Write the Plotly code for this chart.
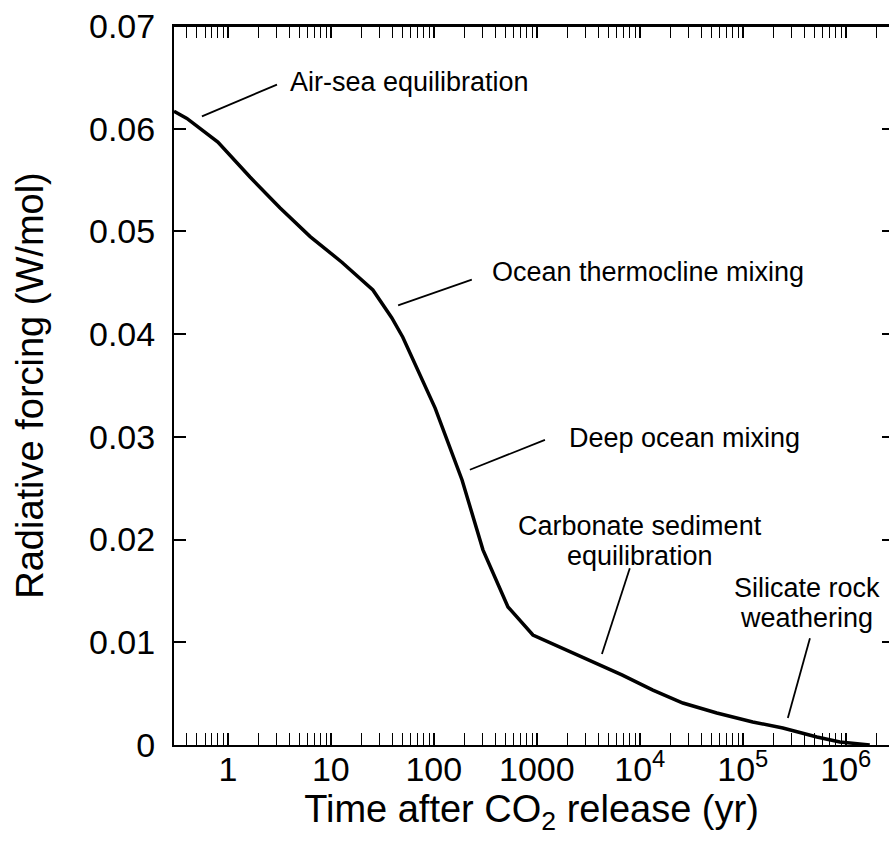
import numpy as np
import plotly.graph_objects as go

# ---- data ----
time_yr = [0.3, 0.40, 0.80, 1.64, 3.2, 6.3, 12.8, 25.6, 39, 50, 103, 188, 300, 525, 917,
           1750, 3430, 6700, 13400, 26200, 56000, 125000, 245000, 525000, 877000, 1.71e6]
forcing = [0.0617, 0.0610, 0.0587, 0.0553, 0.0523, 0.0495, 0.0470, 0.0443, 0.0416, 0.0397,
           0.0328, 0.0258, 0.0190, 0.01344, 0.01071, 0.00944, 0.00808, 0.00682, 0.00535,
           0.00409, 0.00312, 0.00224, 0.00166, 0.00078, 0.0003, 0.0]

x_tickvals = [1, 10, 100, 1000, 1e4, 1e5, 1e6]
x_ticktext = ["1", "10", "100", "1000", "10<sup>4</sup>", "10<sup>5</sup>", "10<sup>6</sup>"]
y_tickvals = [0, 0.01, 0.02, 0.03, 0.04, 0.05, 0.06, 0.07]
y_ticktext = ["0", "0.01", "0.02", "0.03", "0.04", "0.05", "0.06", "0.07"]

# annotation labels: (text, x, y, xanchor)
label_text = ["Air-sea equilibration", "Ocean thermocline mixing", "Deep ocean mixing",
              "Carbonate sediment", "equilibration", "Silicate rock", "weathering"]
label_x = [3.84, 351, 1960, 10000, 10000, 420000, 420000]
label_y = [0.0645, 0.04605, 0.02989, 0.02130, 0.01840, 0.01525, 0.01235]
label_anchor = ["left", "left", "left", "center", "center", "center", "center"]

# leader lines: (x0, y0) -> (x1, y1)
leader_x0 = [3.0, 234, 1200, 8000, 449000]
leader_y0 = [0.0643, 0.0453, 0.0297, 0.0172, 0.0104]
leader_x1 = [0.56, 45, 224, 4290, 274000]
leader_y1 = [0.0612, 0.0428, 0.0268, 0.00886, 0.00263]

FONT = "Liberation Sans, Arial, Helvetica, sans-serif"

fig = go.Figure()

for x0, y0, x1, y1 in zip(leader_x0, leader_y0, leader_x1, leader_y1):
    fig.add_trace(go.Scatter(x=[x0, x1], y=[y0, y1], mode="lines",
                             line=dict(color="black", width=1.8),
                             showlegend=False, hoverinfo="skip"))

fig.add_trace(go.Scatter(x=time_yr, y=forcing, mode="lines",
                         line=dict(color="black", width=3.5),
                         showlegend=False))

# dummy trace for right-side tick axis
fig.add_trace(go.Scatter(x=[None], y=[None], yaxis="y2", showlegend=False))

for t, x, y, a in zip(label_text, label_x, label_y, label_anchor):
    fig.add_annotation(text=t, x=np.log10(x), y=y, xref="x", yref="y",
                       xanchor=a, yanchor="middle", showarrow=False,
                       font=dict(family=FONT, size=27, color="black"))

# top frame line of the plot area
fig.add_shape(type="line", xref="paper", yref="paper", x0=0, x1=1, y0=1, y1=1,
              line=dict(color="black", width=2), layer="above")

minor_vals = [k * 10.0 ** n for n in range(-1, 7) for k in range(2, 10)]

fig.update_layout(
    width=889, height=847,
    margin=dict(l=174, r=0, t=26, b=102, autoexpand=False),
    plot_bgcolor="white", paper_bgcolor="white",
    font=dict(family=FONT, color="black"),
    xaxis=dict(
        type="log", range=[np.log10(0.3), 6.42], automargin=False,
        showline=True, linecolor="black", linewidth=2, mirror="allticks",
        ticks="inside", ticklen=12, tickwidth=1.6, tickcolor="black",
        tickvals=x_tickvals, ticktext=x_ticktext,
        tickfont=dict(family=FONT, size=34, color="black"),
        ticklabelstandoff=-7, ticklabeloverflow="allow",
        minor=dict(ticks="inside", ticklen=6, tickwidth=1.4, tickcolor="black",
                   tickvals=minor_vals, showgrid=False),
        showgrid=False, zeroline=False,
        title=dict(text="Time after CO<sub>2</sub> release (yr)",
                   font=dict(family=FONT, size=38, color="black"), standoff=3),
    ),
    yaxis=dict(
        range=[0, 0.07], automargin=False,
        showline=True, linecolor="black", linewidth=2,
        ticks="inside", ticklen=12, tickwidth=1.6, tickcolor="black",
        tickvals=y_tickvals, ticktext=y_ticktext,
        tickfont=dict(family=FONT, size=34, color="black"),
        ticklabelstandoff=10, ticklabeloverflow="allow",
        showgrid=False, zeroline=False,
        title=dict(text="Radiative forcing (W/mol)",
                   font=dict(family=FONT, size=38, color="black"), standoff=34),
    ),
    yaxis2=dict(
        overlaying="y", side="right", range=[0, 0.07], automargin=False,
        showline=False, ticks="inside", ticklen=7, tickwidth=1.6, tickcolor="black",
        tickvals=y_tickvals, showticklabels=False,
        showgrid=False, zeroline=False,
    ),
)

fig.write_html("out.html",
               config={"displayModeBar": False},
               post_script="document.body.style.margin='0';document.body.style.overflow='hidden';")
